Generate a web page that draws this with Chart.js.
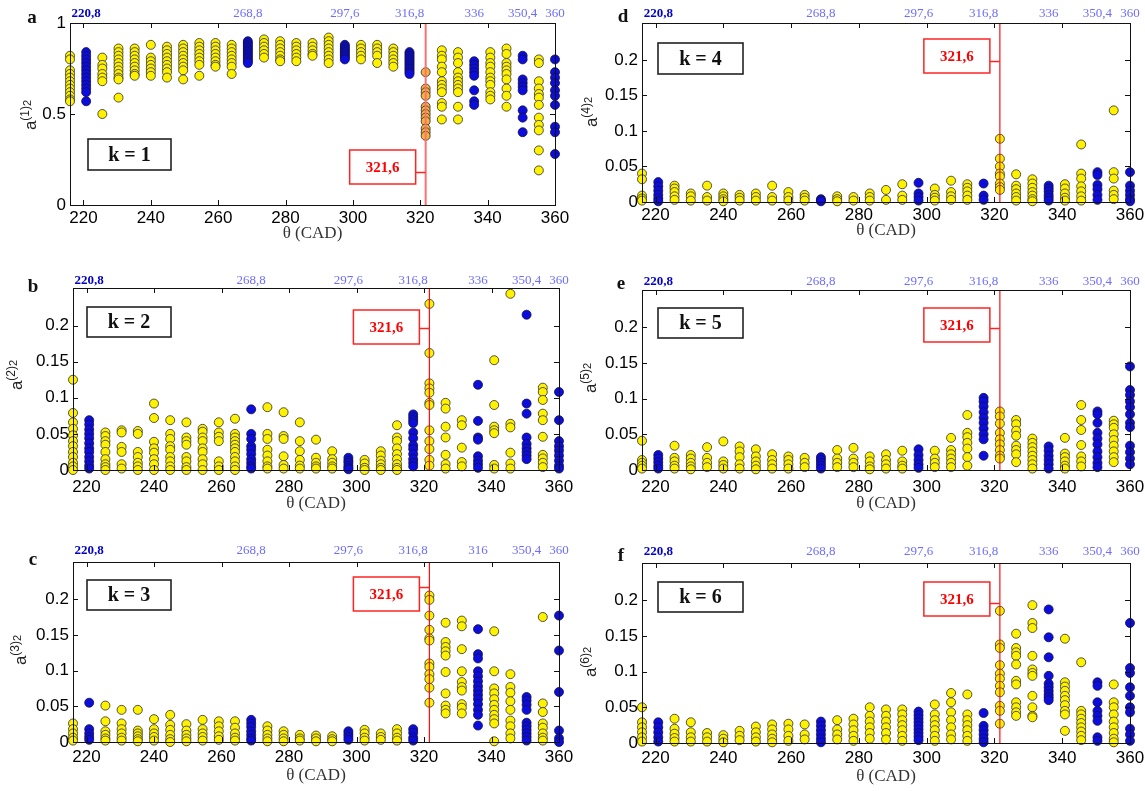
<!DOCTYPE html>
<html><head><meta charset="utf-8">
<script src="https://cdn.jsdelivr.net/npm/chart.js@4.4.1/dist/chart.umd.min.js"></script>
<style>
html,body{margin:0;padding:0;background:#fff;}
#wrap{position:relative;width:1145px;height:791px;overflow:hidden;background:#fff;}
canvas{position:absolute;}
</style></head><body><div id="wrap"></div>
<script>
// ---------- DATA ----------
const X_COLUMNS = [216, 220.8, 225.6, 230.4, 235.2, 240, 244.8, 249.6, 254.4, 259.2, 264, 268.8, 273.6, 278.4, 283.2, 288, 292.8, 297.6, 302.4, 307.2, 312, 316.8, 321.6, 326.4, 331.2, 336, 340.8, 345.6, 350.4, 355.2, 360];
const BLUE_COLUMNS = [220.8, 268.8, 297.6, 316.8, 336, 350.4, 360];
const TOP_LABEL_VALUES = [220.8, 268.8, 297.6, 316.8, 336, 350.4, 360];
const TOP_LABELS = ['220,8', '268,8', '297,6', '316,8', '336', '350,4', '360'];
const TOP_LABELS_C = ['220,8', '268,8', '297,6', '316,8', '316', '350,4', '360'];
const X_TICKS = [220, 240, 260, 280, 300, 320, 340, 360];
const Y_TICKS_A = [0, 0.5, 1];
const Y_LABELS_A = ['0', '0.5', '1'];
const Y_TICKS = [0, 0.05, 0.1, 0.15, 0.2];
const Y_LABELS = ['0', '0.05', '0.1', '0.15', '0.2'];
const RED_LINE_X = 321.6;
const RED_LINE_LABEL = '321,6';
const X_TITLE = 'θ (CAD)';

// one list of values per column of X_COLUMNS
const K1 = [
 [0.82,0.80,0.74,0.72,0.70,0.68,0.66,0.64,0.62,0.60,0.58,0.57],
 [0.84,0.82,0.80,0.78,0.76,0.74,0.72,0.70,0.68,0.66,0.64,0.62,0.57],
 [0.81,0.77,0.75,0.72,0.70,0.68,0.50],
 [0.86,0.84,0.82,0.80,0.78,0.76,0.74,0.72,0.70,0.69,0.59],
 [0.86,0.84,0.82,0.80,0.78,0.76,0.74,0.72,0.71],
 [0.88,0.81,0.79,0.77,0.75,0.73,0.71],
 [0.87,0.85,0.83,0.81,0.79,0.77,0.75,0.73,0.70],
 [0.88,0.86,0.84,0.82,0.80,0.78,0.76,0.74,0.69],
 [0.89,0.87,0.85,0.83,0.81,0.79,0.77,0.71],
 [0.89,0.87,0.85,0.83,0.81,0.79,0.77,0.76],
 [0.88,0.86,0.84,0.82,0.80,0.78,0.76,0.72],
 [0.90,0.89,0.88,0.87,0.86,0.85,0.84,0.83,0.82,0.81,0.80,0.79,0.78],
 [0.91,0.89,0.87,0.85,0.83,0.81],
 [0.90,0.88,0.86,0.84,0.82,0.80,0.79],
 [0.89,0.87,0.85,0.83,0.81,0.79],
 [0.89,0.87,0.85,0.83,0.82],
 [0.92,0.90,0.88,0.86,0.84,0.82,0.80,0.78],
 [0.88,0.87,0.86,0.85,0.84,0.83,0.82,0.81,0.80],
 [0.88,0.86,0.84,0.82,0.80],
 [0.88,0.86,0.84,0.82,0.78],
 [0.86,0.84,0.82,0.80,0.78,0.76],
 [0.84,0.83,0.82,0.81,0.80,0.79,0.78,0.77,0.76,0.75,0.74,0.73,0.72],
 [0.73,0.64,0.62,0.60,0.54,0.52,0.50,0.48,0.46,0.42,0.40,0.38],
 [0.85,0.82,0.80,0.76,0.73,0.68,0.66,0.64,0.62,0.56,0.54,0.47],
 [0.84,0.81,0.78,0.73,0.70,0.68,0.66,0.64,0.62,0.54,0.47],
 [0.79,0.77,0.75,0.73,0.71,0.63,0.57,0.55],
 [0.84,0.81,0.78,0.76,0.73,0.70,0.68,0.66,0.62,0.60,0.58],
 [0.86,0.83,0.78,0.76,0.74,0.72,0.69,0.64,0.60,0.54],
 [0.82,0.80,0.69,0.67,0.65,0.63,0.52,0.48,0.40],
 [0.80,0.78,0.68,0.64,0.61,0.59,0.55,0.48,0.44,0.41,0.30,0.19],
 [0.80,0.73,0.70,0.67,0.63,0.60,0.55,0.43,0.40,0.28]
];
const K2 = [
 [0.125,0.079,0.066,0.057,0.048,0.040,0.033,0.025,0.018,0.010,0.005,0.0],
 [0.069,0.063,0.056,0.050,0.044,0.037,0.030,0.025,0.018,0.012,0.006,0.002],
 [0.052,0.047,0.040,0.035,0.025,0.015,0.008,0.004,0.0],
 [0.055,0.052,0.032,0.025,0.008,0.002],
 [0.054,0.050,0.025,0.018,0.010,0.005,0.0],
 [0.092,0.072,0.039,0.030,0.024,0.015,0.008,0.0],
 [0.069,0.050,0.043,0.033,0.028,0.018,0.012,0.005,0.0],
 [0.066,0.045,0.040,0.035,0.018,0.012,0.004,0.0],
 [0.057,0.053,0.045,0.040,0.030,0.025,0.015,0.008,0.0],
 [0.066,0.052,0.046,0.040,0.012,0.005,0.0],
 [0.071,0.050,0.045,0.040,0.035,0.030,0.025,0.018,0.012,0.005,0.0],
 [0.084,0.050,0.043,0.033,0.028,0.022,0.015,0.010,0.005,0.002],
 [0.087,0.050,0.043,0.028,0.020,0.012,0.005,0.002],
 [0.080,0.047,0.043,0.019,0.007,0.002],
 [0.066,0.040,0.026,0.014,0.006,0.002],
 [0.042,0.017,0.010,0.005,0.002],
 [0.026,0.015,0.010,0.005,0.002],
 [0.017,0.013,0.010,0.006,0.003,0.001],
 [0.014,0.009,0.003,0.0],
 [0.026,0.020,0.013,0.008,0.003,0.0],
 [0.062,0.045,0.040,0.030,0.022,0.015,0.008,0.003,0.0],
 [0.077,0.073,0.069,0.065,0.052,0.044,0.034,0.029,0.022,0.015,0.010,0.005],
 [0.230,0.162,0.120,0.113,0.107,0.093,0.090,0.055,0.040,0.029,0.014,0.006],
 [0.093,0.085,0.060,0.045,0.021,0.008,0.002],
 [0.069,0.062,0.031,0.011,0.005],
 [0.118,0.068,0.045,0.042,0.019,0.013,0.008,0.003],
 [0.152,0.090,0.060,0.055,0.051,0.007,0.002],
 [0.244,0.064,0.059,0.024,0.009,0.002],
 [0.215,0.092,0.078,0.045,0.036,0.030,0.025,0.020,0.015],
 [0.114,0.108,0.097,0.078,0.069,0.046,0.021,0.016,0.010,0.004],
 [0.108,0.069,0.040,0.033,0.027,0.020,0.013,0.006,0.002]
];
const K3 = [
 [0.026,0.018,0.012,0.006,0.002],
 [0.055,0.018,0.012,0.007,0.003],
 [0.051,0.029,0.015,0.010,0.005,0.002],
 [0.045,0.026,0.018,0.012,0.006,0.002],
 [0.045,0.016,0.012,0.008,0.004,0.001],
 [0.032,0.018,0.012,0.007,0.002],
 [0.038,0.024,0.017,0.010,0.004,0.0],
 [0.025,0.016,0.010,0.005,0.001],
 [0.031,0.018,0.012,0.007,0.002],
 [0.029,0.022,0.015,0.008,0.003],
 [0.029,0.020,0.012,0.006,0.002],
 [0.031,0.026,0.021,0.015,0.010,0.005,0.002],
 [0.022,0.016,0.010,0.005,0.001],
 [0.015,0.010,0.005,0.001],
 [0.010,0.005,0.002],
 [0.009,0.005,0.001],
 [0.008,0.004,0.001],
 [0.015,0.011,0.007,0.003],
 [0.017,0.012,0.006,0.002],
 [0.012,0.007,0.003],
 [0.018,0.012,0.006,0.002],
 [0.018,0.013,0.006,0.002],
 [0.205,0.199,0.177,0.157,0.145,0.142,0.110,0.105,0.095,0.088,0.076,0.055],
 [0.167,0.140,0.133,0.127,0.121,0.098,0.068,0.051,0.045,0.040],
 [0.170,0.162,0.130,0.099,0.084,0.077,0.072,0.053,0.048,0.040],
 [0.158,0.123,0.117,0.099,0.092,0.085,0.078,0.072,0.066,0.060,0.053,0.045,0.038,0.023],
 [0.155,0.099,0.075,0.068,0.060,0.052,0.045,0.038,0.032,0.026,0.001],
 [0.095,0.077,0.069,0.057,0.045,0.030,0.022,0.012,0.005],
 [0.063,0.058,0.052,0.045,0.027,0.022,0.017,0.012,0.007,0.002],
 [0.175,0.054,0.042,0.026,0.020,0.012,0.006,0.002],
 [0.177,0.128,0.070,0.016,0.005,0.0]
];
const K4 = [
 [0.040,0.032,0.009,0.005,0.002],
 [0.028,0.022,0.016,0.010,0.005,0.001],
 [0.023,0.019,0.014,0.008,0.003],
 [0.012,0.008,0.002],
 [0.023,0.007,0.002],
 [0.012,0.008,0.004,0.001],
 [0.010,0.006,0.002],
 [0.012,0.007,0.002],
 [0.023,0.007,0.002],
 [0.014,0.007,0.002],
 [0.010,0.006,0.002],
 [0.004,0.002,0.001],
 [0.008,0.004,0.001],
 [0.007,0.002],
 [0.012,0.007,0.002],
 [0.017,0.003],
 [0.025,0.009,0.003],
 [0.027,0.012,0.007,0.002],
 [0.019,0.010,0.006,0.002],
 [0.030,0.014,0.008,0.003],
 [0.025,0.020,0.015,0.009,0.003],
 [0.026,0.009,0.003],
 [0.089,0.061,0.050,0.040,0.036,0.026,0.021,0.017],
 [0.039,0.023,0.018,0.012,0.007,0.002],
 [0.032,0.026,0.020,0.014,0.009,0.004,0.001],
 [0.023,0.019,0.015,0.010,0.006,0.002],
 [0.025,0.019,0.012,0.006,0.002],
 [0.081,0.040,0.033,0.022,0.015,0.008,0.002],
 [0.042,0.038,0.024,0.018,0.010,0.003],
 [0.129,0.042,0.033,0.016,0.010,0.004],
 [0.042,0.023,0.016,0.010,0.004,0.001]
];
const K5 = [
 [0.041,0.014,0.010,0.006,0.002],
 [0.021,0.016,0.011,0.006,0.002],
 [0.034,0.017,0.012,0.006,0.002],
 [0.021,0.016,0.010,0.005,0.001],
 [0.032,0.017,0.010,0.004],
 [0.040,0.012,0.007,0.002],
 [0.033,0.026,0.018,0.008,0.002],
 [0.029,0.019,0.012,0.006,0.001],
 [0.022,0.014,0.008,0.002],
 [0.019,0.014,0.008,0.002],
 [0.017,0.010,0.004],
 [0.018,0.014,0.010,0.006,0.002],
 [0.028,0.016,0.010,0.004],
 [0.031,0.016,0.010,0.004],
 [0.019,0.012,0.005,0.001],
 [0.022,0.014,0.008,0.002],
 [0.027,0.012,0.006,0.002],
 [0.029,0.021,0.014,0.008,0.003],
 [0.027,0.016,0.010,0.004],
 [0.045,0.028,0.022,0.016,0.010,0.004],
 [0.077,0.052,0.046,0.038,0.030,0.018,0.006],
 [0.101,0.096,0.089,0.081,0.073,0.066,0.058,0.050,0.043,0.020],
 [0.082,0.075,0.065,0.052,0.043,0.036,0.028,0.020,0.016],
 [0.070,0.064,0.055,0.048,0.034,0.028,0.022,0.011],
 [0.044,0.038,0.032,0.026,0.020,0.014,0.008,0.002],
 [0.033,0.027,0.020,0.014,0.008,0.002],
 [0.045,0.023,0.018,0.012,0.006,0.002],
 [0.091,0.070,0.056,0.035,0.019,0.012,0.005],
 [0.082,0.078,0.066,0.052,0.044,0.036,0.026,0.018,0.010,0.004],
 [0.069,0.064,0.059,0.050,0.042,0.034,0.026,0.018,0.011],
 [0.145,0.112,0.105,0.096,0.088,0.078,0.066,0.060,0.034,0.025,0.016,0.008]
];
const K6 = [
 [0.050,0.029,0.022,0.015,0.008,0.002],
 [0.029,0.022,0.015,0.008,0.002],
 [0.034,0.020,0.013,0.007,0.002],
 [0.029,0.015,0.008,0.002],
 [0.014,0.008,0.002],
 [0.011,0.006,0.001],
 [0.017,0.010,0.004],
 [0.023,0.015,0.008,0.002],
 [0.026,0.019,0.012,0.006,0.001],
 [0.027,0.019,0.010,0.003],
 [0.026,0.012,0.005],
 [0.030,0.024,0.018,0.012,0.006,0.001],
 [0.032,0.019,0.012,0.005],
 [0.034,0.026,0.018,0.010,0.003],
 [0.050,0.038,0.030,0.022,0.014,0.006],
 [0.047,0.038,0.030,0.022,0.014,0.005],
 [0.047,0.040,0.032,0.025,0.018,0.010,0.003],
 [0.044,0.039,0.034,0.029,0.024,0.019,0.014,0.009,0.004],
 [0.054,0.040,0.032,0.025,0.018,0.010,0.003],
 [0.070,0.057,0.043,0.032,0.022,0.012,0.005],
 [0.068,0.040,0.032,0.025,0.018,0.010,0.003],
 [0.042,0.024,0.018,0.012,0.006,0.001],
 [0.185,0.138,0.133,0.109,0.097,0.090,0.080,0.071,0.052,0.045,0.027],
 [0.153,0.133,0.127,0.122,0.110,0.087,0.082,0.057,0.050,0.043,0.038],
 [0.193,0.168,0.161,0.122,0.103,0.098,0.094,0.066,0.050,0.038,0.036],
 [0.187,0.148,0.120,0.094,0.083,0.078,0.073,0.068,0.064,0.060],
 [0.146,0.085,0.079,0.073,0.066,0.060,0.053,0.045,0.040,0.017],
 [0.113,0.045,0.040,0.034,0.028,0.022,0.016,0.010,0.004],
 [0.085,0.080,0.057,0.045,0.038,0.031,0.008,0.003],
 [0.082,0.057,0.050,0.040,0.030,0.022,0.014,0.006,0.001],
 [0.168,0.105,0.098,0.078,0.066,0.050,0.043,0.020,0.012,0.003]
];

// ---------- STYLE / LAYOUT ----------
const YELLOW = '#fff200', BLUE = '#0c0cdc', ORANGE = '#f2b43c', EDGE = '#2a2a2a';
const DARK_BLUE = '#0000c8', LIGHT_BLUE = '#6d6dff';
const SANS = '"Liberation Sans", Arial, sans-serif';
const SERIF = '"Liberation Serif", "Times New Roman", serif';

const PANELS = [
 {letter:'a', k:1, data:K1, yMax:1, yTicks:Y_TICKS_A, yLabels:Y_LABELS_A, top:TOP_LABELS, highlight:true,
  canvas:{x:0,y:0,w:575,h:262}, area:{l:70,r:555,t:23,b:205}, letterPos:[32,18], yTitle:[31,115],
  kBox:[88,139,171,170], redBox:{t:150,b:184,conn:172}, topPad:2, botPad:3, xTitleY:234},
 {letter:'b', k:2, data:K2, yMax:0.252, yTicks:Y_TICKS, yLabels:Y_LABELS, top:TOP_LABELS,
  canvas:{x:0,y:262,w:575,h:268}, area:{l:73,r:559,t:288,b:470}, letterPos:[33,287], yTitle:[17,375],
  kBox:[87,307,171,337], redBox:{t:310,b:344,conn:328}, topPad:0, botPad:7, xTitleY:504},
 {letter:'c', k:3, data:K3, yMax:0.252, yTicks:Y_TICKS, yLabels:Y_LABELS, top:TOP_LABELS_C,
  canvas:{x:0,y:530,w:575,h:261}, area:{l:73,r:559,t:562,b:742}, letterPos:[33,560], yTitle:[21,650],
  kBox:[87,580,171,610], redBox:{t:577,b:611,conn:587}, topPad:4, botPad:5, xTitleY:776},
 {letter:'d', k:4, data:K4, yMax:0.252, yTicks:Y_TICKS, yLabels:Y_LABELS, top:TOP_LABELS,
  canvas:{x:575,y:0,w:570,h:262}, area:{l:642,r:1130,t:23,b:202}, letterPos:[623,17], yTitle:[592,112],
  kBox:[658,43,743,74], redBox:{t:39,b:73,conn:61}, topPad:2, botPad:3, xTitleY:231},
 {letter:'e', k:5, data:K5, yMax:0.252, yTicks:Y_TICKS, yLabels:Y_LABELS, top:TOP_LABELS,
  canvas:{x:575,y:262,w:570,h:268}, area:{l:642,r:1130,t:290,b:470}, letterPos:[621,284], yTitle:[591,378],
  kBox:[658,308,743,338], redBox:{t:308,b:342,conn:328}, topPad:1, botPad:7, xTitleY:504},
 {letter:'f', k:6, data:K6, yMax:0.252, yTicks:Y_TICKS, yLabels:Y_LABELS, top:TOP_LABELS,
  canvas:{x:575,y:530,w:570,h:261}, area:{l:642,r:1130,t:563,b:743}, letterPos:[621,556], yTitle:[591,662],
  kBox:[658,582,743,612], redBox:{t:582,b:616,conn:603}, topPad:4, botPad:5, xTitleY:777}
];

function buildPoints(cols, blue) {
  const pts = [];
  cols.forEach((vals, i) => {
    const x = X_COLUMNS[i];
    if (BLUE_COLUMNS.includes(x) === blue) vals.forEach(v => pts.push({x: x, y: v}));
  });
  return pts;
}

function drawYTitle(ctx, cx, cy, k) {
  ctx.save();
  ctx.translate(cx, cy);
  ctx.rotate(-Math.PI / 2);
  const f1 = '17px ' + SANS, f2 = '12px ' + SANS, f3 = '11px ' + SANS;
  ctx.font = f1; const wA = ctx.measureText('a').width;
  ctx.font = f2; const sup = '(' + k + ')'; const wK = ctx.measureText(sup).width;
  ctx.font = f3; const w2 = ctx.measureText('2').width;
  let x = -(wA + wK + w2) / 2;
  ctx.fillStyle = '#222';
  ctx.textBaseline = 'alphabetic';
  ctx.textAlign = 'left';
  ctx.font = f1; ctx.fillText('a', x, 5); x += wA;
  ctx.font = f2; ctx.fillText(sup, x, -2); x += wK;
  ctx.font = f3; ctx.fillText('2', x, 0);
  ctx.restore();
}

function makeDeco(p) {
  const ox = p.canvas.x, oy = p.canvas.y;
  return {
    id: 'panelDeco',
    afterDatasetsDraw(chart) {
      const ctx = chart.ctx, a = chart.chartArea;
      const lx = chart.scales.x.getPixelForValue(RED_LINE_X);
      ctx.save();
      ctx.strokeStyle = p.highlight ? '#ff7070' : '#ff1010';
      ctx.lineWidth = p.highlight ? 2 : 1.2;
      ctx.beginPath(); ctx.moveTo(lx, a.top); ctx.lineTo(lx, a.bottom); ctx.stroke();
      ctx.restore();
    },
    afterDraw(chart) {
      const ctx = chart.ctx, a = chart.chartArea;
      const xs = chart.scales.x, ys = chart.scales.y;
      ctx.save();
      // frame
      ctx.strokeStyle = '#111'; ctx.lineWidth = 1;
      ctx.strokeRect(Math.round(a.left) + 0.5, Math.round(a.top) + 0.5, Math.round(a.right - a.left), Math.round(a.bottom - a.top));
      // inward ticks
      ctx.beginPath();
      X_TICKS.forEach(v => {
        const px = Math.round(xs.getPixelForValue(v)) + 0.5;
        ctx.moveTo(px, a.bottom); ctx.lineTo(px, a.bottom - 5);
        ctx.moveTo(px, a.top); ctx.lineTo(px, a.top + 5);
      });
      p.yTicks.forEach(v => {
        const py = Math.round(ys.getPixelForValue(v)) + 0.5;
        ctx.moveTo(a.left, py); ctx.lineTo(a.left + 5, py);
        ctx.moveTo(a.right, py); ctx.lineTo(a.right - 5, py);
      });
      ctx.stroke();

      // k box
      const [kx1, ky1, kx2, ky2] = p.kBox;
      ctx.fillStyle = '#fff'; ctx.strokeStyle = '#222'; ctx.lineWidth = 1.6;
      ctx.fillRect(kx1 - ox, ky1 - oy, kx2 - kx1, ky2 - ky1);
      ctx.strokeRect(kx1 - ox, ky1 - oy, kx2 - kx1, ky2 - ky1);
      ctx.fillStyle = '#111'; ctx.font = 'bold 20px ' + SERIF;
      ctx.textAlign = 'center'; ctx.textBaseline = 'middle';
      ctx.fillText('k = ' + p.k, (kx1 + kx2) / 2 - ox, (ky1 + ky2) / 2 - oy + 1);

      // red label box
      const lx = xs.getPixelForValue(RED_LINE_X);
      const rb = p.redBox, bw = 66;
      const rx2 = lx - 10, rx1 = rx2 - bw;
      ctx.fillStyle = '#fff'; ctx.strokeStyle = '#ff2424'; ctx.lineWidth = 1.5;
      ctx.fillRect(rx1, rb.t - oy, bw, rb.b - rb.t);
      ctx.strokeRect(rx1, rb.t - oy, bw, rb.b - rb.t);
      ctx.beginPath(); ctx.moveTo(rx2, rb.conn - oy + 0.5); ctx.lineTo(lx, rb.conn - oy + 0.5); ctx.stroke();
      ctx.fillStyle = '#ff0000'; ctx.font = 'bold 15px ' + SERIF;
      ctx.fillText(RED_LINE_LABEL, (rx1 + rx2) / 2, (rb.t + rb.b) / 2 - oy + 1);

      // panel letter
      ctx.fillStyle = '#111'; ctx.font = 'bold 19px ' + SERIF;
      ctx.fillText(p.letter, p.letterPos[0] - ox, p.letterPos[1] - oy);

      // x title
      ctx.fillStyle = '#333'; ctx.font = '17px ' + SERIF;
      ctx.fillText(X_TITLE, (a.left + a.right) / 2, p.xTitleY - oy);

      // y title
      drawYTitle(ctx, p.yTitle[0] - ox, p.yTitle[1] - oy, p.k);
      ctx.restore();
    }
  };
}

const wrap = document.getElementById('wrap');

function makeChart(p) {
  const c = document.createElement('canvas');
  c.width = p.canvas.w; c.height = p.canvas.h;
  c.style.left = p.canvas.x + 'px'; c.style.top = p.canvas.y + 'px';
  c.style.width = p.canvas.w + 'px'; c.style.height = p.canvas.h + 'px';
  wrap.appendChild(c);
  const yW = p.area.l - p.canvas.x;
  const topH = p.area.t - p.canvas.y;
  const botH = p.canvas.y + p.canvas.h - p.area.b;
  const padR = p.canvas.x + p.canvas.w - p.area.r;
  const pointOpts = {pointRadius: 4.5, pointBorderWidth: 0.8, pointBorderColor: EDGE, pointHoverRadius: 4.5, showLine: false, clip: false, xAxisID: 'x', yAxisID: 'y'};
  new Chart(c, {
    type: 'scatter',
    data: {datasets: [
      Object.assign({label: 'yellow', data: buildPoints(p.data, false),
        pointBackgroundColor: (ctx) => (p.highlight && ctx.raw && ctx.raw.x === RED_LINE_X) ? ORANGE : YELLOW}, pointOpts),
      Object.assign({label: 'blue', data: buildPoints(p.data, true), pointBackgroundColor: BLUE}, pointOpts, {pointBorderColor: '#10104a'})
    ]},
    options: {
      responsive: false, animation: false, devicePixelRatio: 1, events: [],
      layout: {padding: {left: 0, right: padR, top: 0, bottom: 0}},
      plugins: {legend: {display: false}, tooltip: {enabled: false}},
      scales: {
        x: {type: 'linear', position: 'bottom', min: 216, max: 360,
          grid: {display: false, drawTicks: false}, border: {display: false},
          afterBuildTicks: (s) => { s.ticks = X_TICKS.map(v => ({value: v})); },
          afterFit: (s) => { s.height = botH; s.paddingLeft = 0; s.paddingRight = 0; },
          ticks: {autoSkip: false, maxRotation: 0, minRotation: 0, padding: p.botPad, color: '#000',
            font: {family: SANS, size: 17}, callback: (v) => String(v)}},
        xTop: {type: 'linear', axis: 'x', position: 'top', min: 216, max: 360,
          grid: {display: false, drawTicks: false}, border: {display: false},
          afterBuildTicks: (s) => { s.ticks = TOP_LABEL_VALUES.map(v => ({value: v})); },
          afterFit: (s) => { s.height = topH; s.paddingLeft = 0; s.paddingRight = 0; },
          ticks: {autoSkip: false, maxRotation: 0, minRotation: 0, padding: p.topPad,
            color: (ctx) => ctx.index === 0 ? DARK_BLUE : LIGHT_BLUE,
            font: (ctx) => ({family: SERIF, size: 13, weight: ctx.index === 0 ? 'bold' : 'normal'}),
            callback: (v, i) => p.top[i]}},
        y: {type: 'linear', position: 'left', min: 0, max: p.yMax,
          grid: {display: false, drawTicks: false}, border: {display: false},
          afterBuildTicks: (s) => { s.ticks = p.yTicks.map(v => ({value: v})); },
          afterFit: (s) => { s.width = yW; s.paddingTop = 0; s.paddingBottom = 0; },
          ticks: {autoSkip: false, padding: 4, color: '#000', font: {family: SANS, size: 17},
            callback: (v, i) => p.yLabels[i]}}
      }
    },
    plugins: [makeDeco(p)]
  });
}

PANELS.forEach(makeChart);
</script></body></html>
